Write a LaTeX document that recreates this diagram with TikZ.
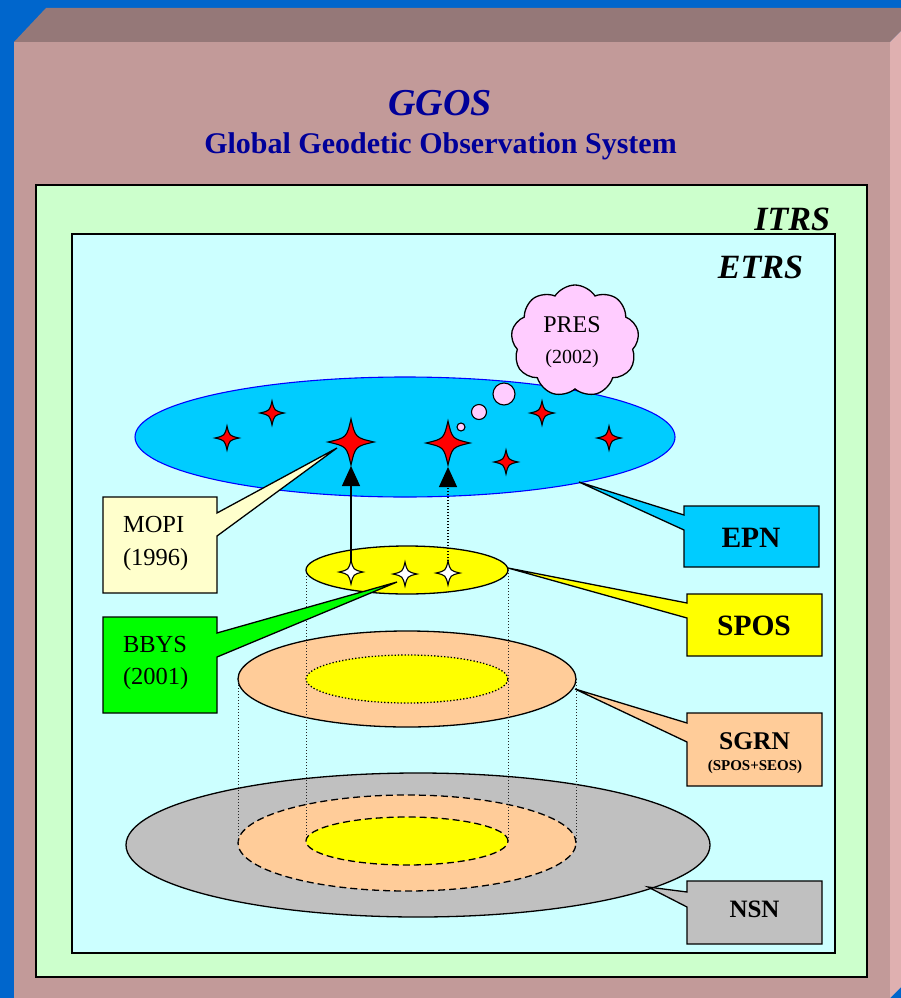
\documentclass[tikz,border=0pt]{standalone}
\usepackage{fontspec}
\setmainfont{Liberation Serif}
\usetikzlibrary{shapes.geometric,shapes.symbols,arrows.meta}

\definecolor{bgblue}{HTML}{0066CC}
\definecolor{frontface}{HTML}{C29A99}
\definecolor{topface}{HTML}{957878}
\definecolor{sideface}{HTML}{DFB0B0}
\definecolor{titleblue}{HTML}{000099}
\definecolor{itrsgreen}{HTML}{CCFFCC}
\definecolor{etrscyan}{HTML}{CCFFFF}
\definecolor{epnblue}{HTML}{00CCFF}
\definecolor{peach}{HTML}{FFCC99}
\definecolor{nsngray}{HTML}{C0C0C0}
\definecolor{cloudpink}{HTML}{FFCCFF}
\definecolor{cream}{HTML}{FFFFCC}
\definecolor{limegreen}{HTML}{00FF00}
\definecolor{sunyellow}{HTML}{FFFF00}
\definecolor{starred}{HTML}{FF0000}

\newcommand\fsz[1]{\fontsize{#1}{#1}\selectfont}

% four-pointed star with concave sides, centred on a named coordinate
\newcommand\spark[3]{%
  \filldraw[fill=#3, draw=black, line width=1.1pt, line join=miter, shift={(#1)}]
    (#2,0) .. controls ({0.19*#2},{0.19*#2}) .. (0,#2)
    .. controls ({-0.19*#2},{0.19*#2}) .. (-#2,0)
    .. controls ({-0.19*#2},{-0.19*#2}) .. (0,-#2)
    .. controls ({0.19*#2},{-0.19*#2}) .. cycle;}

\tikzset{
  label text/.style={inner sep=0pt, outer sep=0pt},
  ring/.style={ellipse, draw=black, line width=1.3pt, inner sep=0pt, outer sep=0pt},
  vline/.style={draw=black!85, line width=0.9pt, dash pattern=on 1pt off 2pt},
  callbox/.style={draw=black, line width=1.3pt, line join=miter},
  uparrow/.style={line width=1.2pt, -{Triangle[width=18pt,length=20pt]}, shorten >=24pt},
  bubble/.style={circle, draw=black, fill=cloudpink, line width=1.1pt, inner sep=0pt}
}

\begin{document}
\begin{tikzpicture}[x=1pt,y=-1pt]
\useasboundingbox (0,0) rectangle (901,998);

% backdrop and the box in perspective
\fill[bgblue] (0,0) rectangle (901,998);
\fill[frontface] (14,42) rectangle (890,998);
\fill[topface] (14,42) -- (46,8) -- (901,8) -- (901,31) -- (890,42) -- cycle;
\fill[sideface] (890,42) -- (901,31) -- (901,987) -- (890,998) -- cycle;

% title
\node[label text, anchor=base, text=titleblue, font=\fsz{38}\bfseries\itshape] (ggos) at (440,115) {GGOS};
\node[label text, anchor=base, text=titleblue, font=\fsz{30}\bfseries] (ggosname) at (440.5,153) {Global Geodetic Observation System};

% reference frames
\draw[fill=itrsgreen, line width=1.5pt] (36,185) rectangle (867,977);
\draw[fill=etrscyan, line width=1.5pt] (72,234) rectangle (835,953);
\node[label text, anchor=base east, font=\fsz{34}\bfseries\itshape] (itrs) at (830,230) {ITRS};
\node[label text, anchor=base east, font=\fsz{34}\bfseries\itshape] (etrs) at (803,278) {ETRS};

% EPN
\node[ellipse, draw=blue, fill=epnblue, line width=1.1pt, minimum width=540pt, minimum height=120pt, inner sep=0pt, outer sep=0pt] (epn) at (405,437) {};

% PRES thought cloud
\node[bubble, minimum size=8pt] (bub1) at (461,427) {};
\node[bubble, minimum size=15pt] (bub2) at (479,412) {};
\node[bubble, minimum size=22pt] (bub3) at (504,394) {};
\node[cloud, cloud puffs=9, cloud puff arc=115, cloud ignores aspect, draw=black, fill=cloudpink, line width=1.3pt, minimum width=128pt, minimum height=112pt, inner sep=0pt] (pres) at (575,341) {};
\node[label text, anchor=base, font=\fsz{24}] (prestext) at (572,332) {PRES};
\node[label text, anchor=base, font=\fsz{20}] (presyear) at (572,363) {(2002)};

% NSN with the projected SGRN and SPOS rings
\node[ring, fill=nsngray, minimum width=584pt, minimum height=144pt] (nsn) at (418,845) {};
\node[ring, fill=peach, dash pattern=on 7pt off 4pt, minimum width=338pt, minimum height=96pt] (nsnmid) at (407,843) {};
\node[ring, fill=sunyellow, dash pattern=on 7pt off 4pt, minimum width=202pt, minimum height=48pt] (nsnin) at (407,841) {};

% SGRN with the projected SPOS ring
\node[ring, fill=peach, minimum width=338pt, minimum height=96pt] (sgrn) at (407,679) {};
\node[ring, fill=sunyellow, line width=1.3pt, dash pattern=on 1.3pt off 2pt, minimum width=202pt, minimum height=48pt] (sgrnin) at (407,679) {};

% SPOS
\node[ring, fill=sunyellow, minimum width=202pt, minimum height=48pt] (spos) at (407,570) {};

% projection lines
\draw[vline] (spos.west) -- (nsnin.west);
\draw[vline] (spos.east) -- (nsnin.east);
\draw[vline] (sgrn.west) -- (nsnmid.west);
\draw[vline] (sgrn.east) -- (nsnmid.east);

% stations
\coordinate (r1) at (351,442);
\coordinate (r2) at (448,443);
\coordinate (s1) at (227,438);
\coordinate (s2) at (272,413);
\coordinate (s3) at (542,413);
\coordinate (s4) at (609,438);
\coordinate (s5) at (506,462);
\coordinate (w1) at (351,572);
\coordinate (w2) at (405,574);
\coordinate (w3) at (448,573);

\draw[uparrow] (w1) -- (r1);
\draw[uparrow, dash pattern=on 1pt off 2pt] (w3) -- (r2);

% callouts
\draw[callbox, fill=cream] (103,497) -- (217,497) -- (217,513) -- (337,448) -- (217,536) -- (217,593) -- (103,593) -- cycle;
\node[label text, anchor=base west, font=\fsz{24.5}] (mopi) at (123,532) {MOPI};
\node[label text, anchor=base west, font=\fsz{24.5}] (mopiyear) at (123,565) {(1996)};

\draw[callbox, fill=limegreen] (103,617) -- (217,617) -- (217,633) -- (397,582) -- (217,657) -- (217,713) -- (103,713) -- cycle;
\node[label text, anchor=base west, font=\fsz{24.5}] (bbys) at (123,652) {BBYS};
\node[label text, anchor=base west, font=\fsz{24.5}] (bbysyear) at (123,684) {(2001)};

\draw[callbox, fill=epnblue] (684,506) -- (819,506) -- (819,567) -- (684,567) -- (684,530) -- (579,482) -- (684,515) -- cycle;
\node[label text, anchor=base, font=\fsz{29.5}\bfseries] (epnlabel) at (751,547) {EPN};

\draw[callbox, fill=sunyellow] (687,594) -- (822,594) -- (822,656) -- (687,656) -- (687,618) -- (508,568) -- (687,603) -- cycle;
\node[label text, anchor=base, font=\fsz{29.5}\bfseries] (sposlabel) at (754,635) {SPOS};

\draw[callbox, fill=peach] (687,713) -- (822,713) -- (822,786) -- (687,786) -- (687,742) -- (575,689) -- (687,723) -- cycle;
\node[label text, anchor=base, font=\fsz{25.5}\bfseries] (sgrnlabel) at (754.5,749) {SGRN};
\node[label text, anchor=base, font=\fsz{15}\bfseries] (sgrnsub) at (755,770) {(SPOS+SEOS)};

\draw[callbox, fill=nsngray] (687,881) -- (822,881) -- (822,944) -- (687,944) -- (687,907) -- (648,887) -- (687,892) -- cycle;
\node[label text, anchor=base, font=\fsz{25}\bfseries] (nsnlabel) at (754.5,917) {NSN};

% star markers
\spark{r1}{23}{starred}
\spark{r2}{22}{starred}
\spark{s1}{12}{starred}
\spark{s2}{12}{starred}
\spark{s3}{12}{starred}
\spark{s4}{12}{starred}
\spark{s5}{12}{starred}
\spark{w1}{12}{white}
\spark{w2}{12}{white}
\spark{w3}{12}{white}
\end{tikzpicture}
\end{document}
